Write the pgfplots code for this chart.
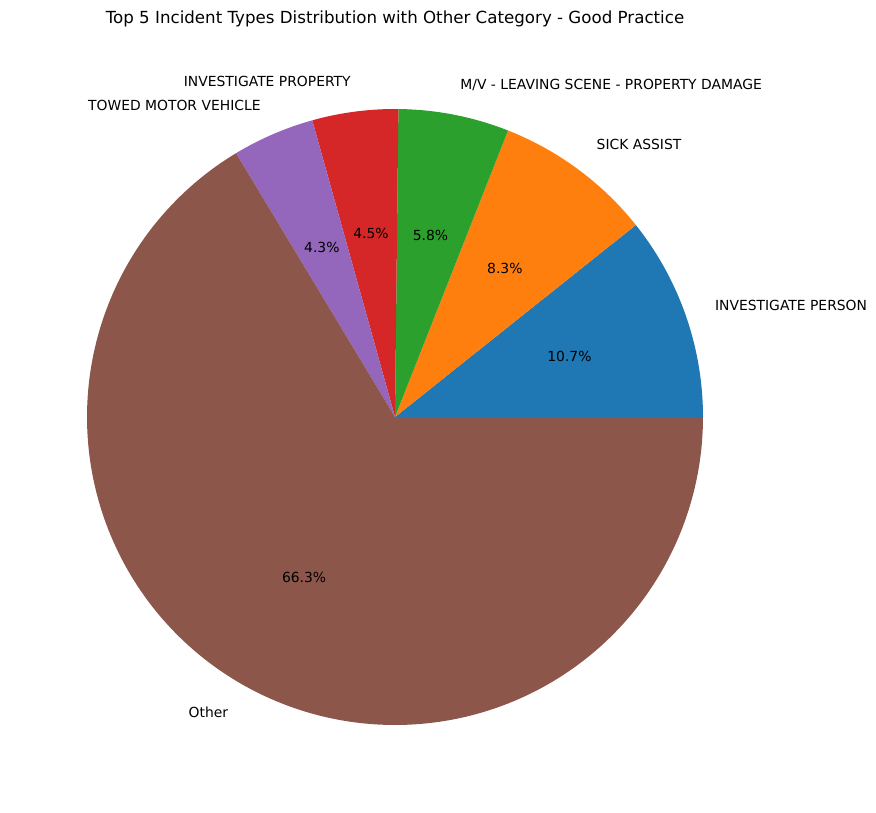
\documentclass[border=0pt]{standalone}
\usepackage{pgfplots}
\pgfplotsset{compat=1.18}
\usepackage{fontspec}
\setmainfont{DejaVu Sans}
\definecolor{tabblue}{HTML}{1F77B4}
\definecolor{taborange}{HTML}{FF7F0E}
\definecolor{tabgreen}{HTML}{2CA02C}
\definecolor{tabred}{HTML}{D62728}
\definecolor{tabpurple}{HTML}{9467BD}
\definecolor{tabbrown}{HTML}{8C564B}
% slice values (percent)
\def\vA{10.7}\def\vB{8.3}\def\vC{5.8}\def\vD{4.5}\def\vE{4.3}\def\vF{66.3}
\pgfmathsetmacro{\tot}{\vA+\vB+\vC+\vD+\vE+\vF}
\pgfmathsetmacro{\aA}{\vA/\tot*360}
\pgfmathsetmacro{\aB}{(\vA+\vB)/\tot*360}
\pgfmathsetmacro{\aC}{(\vA+\vB+\vC)/\tot*360}
\pgfmathsetmacro{\aD}{(\vA+\vB+\vC+\vD)/\tot*360}
\pgfmathsetmacro{\aE}{(\vA+\vB+\vC+\vD+\vE)/\tot*360}
\newcommand{\lab}{\fontsize{10}{12}\selectfont}
\begin{document}
\begin{tikzpicture}
\useasboundingbox (0,0) rectangle (630.72pt,584.64pt);
\node[font=\fontsize{12}{14}\selectfont] at (284.4pt,571.3pt) {Top 5 Incident Types Distribution with Other Category - Good Practice};
\begin{axis}[
  at={(284.4pt,284.4pt)}, anchor=center,
  scale only axis, width=443.52pt, height=443.52pt,
  xmin=-1, xmax=1, ymin=-1, ymax=1,
  hide axis, clip=false,
]
\addplot[fill=tabblue, draw=none, domain=0:\aA, samples=40] ({cos(x)},{sin(x)}) -- (axis cs:0,0) -- cycle;
\addplot[fill=taborange, draw=none, domain=\aA:\aB, samples=40] ({cos(x)},{sin(x)}) -- (axis cs:0,0) -- cycle;
\addplot[fill=tabgreen, draw=none, domain=\aB:\aC, samples=30] ({cos(x)},{sin(x)}) -- (axis cs:0,0) -- cycle;
\addplot[fill=tabred, draw=none, domain=\aC:\aD, samples=30] ({cos(x)},{sin(x)}) -- (axis cs:0,0) -- cycle;
\addplot[fill=tabpurple, draw=none, domain=\aD:\aE, samples=30] ({cos(x)},{sin(x)}) -- (axis cs:0,0) -- cycle;
\addplot[fill=tabbrown, draw=none, domain=\aE:360, samples=200] ({cos(x)},{sin(x)}) -- (axis cs:0,0) -- cycle;
% outer labels
\node[anchor=west, inner sep=0pt, font=\lab] at (axis cs:{1.1*cos(19.28)},{1.1*sin(19.28)}) {INVESTIGATE PERSON};
\node[anchor=west, inner sep=0pt, font=\lab] at (axis cs:{1.1*cos(53.52)},{1.1*sin(53.52)}) {SICK ASSIST};
\node[anchor=west, inner sep=0pt, font=\lab] at (axis cs:{1.1*cos(78.92)},{1.1*sin(78.92)}) {M/V - LEAVING SCENE - PROPERTY DAMAGE};
\node[anchor=east, inner sep=0pt, font=\lab] at (axis cs:{1.1*cos(97.48)},{1.1*sin(97.48)}) {INVESTIGATE PROPERTY};
\node[anchor=east, inner sep=0pt, font=\lab] at (axis cs:{1.1*cos(113.33)},{1.1*sin(113.33)}) {TOWED MOTOR VEHICLE};
\node[anchor=east, inner sep=0pt, font=\lab] at (axis cs:{1.1*cos(240.54)},{1.1*sin(240.54)}) {Other};
% percentages
\node[font=\lab] at (axis cs:{0.6*cos(19.28)},{0.6*sin(19.28)}) {10.7\%};
\node[font=\lab] at (axis cs:{0.6*cos(53.52)},{0.6*sin(53.52)}) {8.3\%};
\node[font=\lab] at (axis cs:{0.6*cos(78.92)},{0.6*sin(78.92)}) {5.8\%};
\node[font=\lab] at (axis cs:{0.6*cos(97.48)},{0.6*sin(97.48)}) {4.5\%};
\node[font=\lab] at (axis cs:{0.6*cos(113.33)},{0.6*sin(113.33)}) {4.3\%};
\node[font=\lab] at (axis cs:{0.6*cos(240.54)},{0.6*sin(240.54)}) {66.3\%};
\end{axis}
\end{tikzpicture}
\end{document}
